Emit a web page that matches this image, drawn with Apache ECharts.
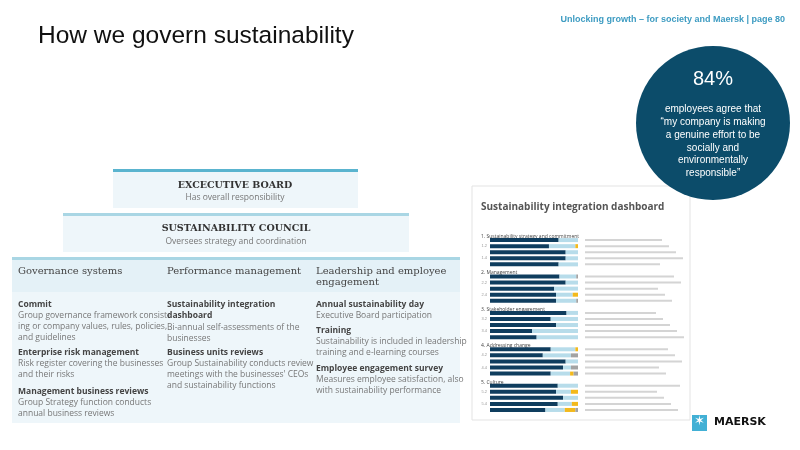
<!DOCTYPE html>
<html><head><meta charset="utf-8">
<script src="https://cdn.jsdelivr.net/npm/echarts@6/dist/echarts.min.js"></script>
<style>html,body{margin:0;padding:0;background:#fff}#main{width:800px;height:450px}</style>
</head><body><div id="main"></div>
<script>
// dashboard rows, hN = section heading row
var rows = ['h1', '1.1', '1.2', '1.3', '1.4', '1.5', 'h2', '2.1', '2.2', '2.3', '2.4', '2.5',
    'h3', '3.1', '3.2', '3.3', '3.4', '3.5', 'h4', '4.1', '4.2', '4.3', '4.4', '4.5',
    'h5', '5.1', '5.2', '5.3', '5.4', '5.5'];
var sections = ['1. Sustainability strategy and commitment', '2. Management', '3. Stakeholder engagement',
    '4. Addressing change', '5. Culture'];
var agree = [null, 0.78, 0.67, 0.86, 0.86, 0.78, null, 0.79, 0.86, 0.73, 0.75, 0.75,
    null, 0.87, 0.69, 0.75, 0.48, 0.53, null, 0.69, 0.60, 0.86, 0.83, 0.69,
    null, 0.77, 0.75, 0.83, 0.77, 0.63];
var neutral = [null, 0, 0.03, 0, 0, 0, null, 0, 0, 0, 0.06, 0,
    null, 0, 0, 0, 0, 0, null, 0.03, 0, 0, 0, 0.04,
    null, 0, 0.08, 0, 0.07, 0.12];
var unknown = [null, 0, 0, 0, 0, 0, null, 0.02, 0, 0, 0, 0.02,
    null, 0, 0, 0, 0, 0, null, 0, 0.08, 0, 0.08, 0.05,
    null, 0, 0, 0, 0, 0.03];
var rest = agree.map(function (v, i) {
    return v == null ? null : +(1 - v - neutral[i] - unknown[i]).toFixed(2);
});

var myChart = echarts.init(document.getElementById('main'));
var sans = '"Open Sans", sans-serif', serif = '"DejaVu Serif", serif';

function txt(x, y, s, st) {
    return { type: 'text', silent: true, style: Object.assign({ x: x, y: y, text: s, fill: '#777', font: '8.5px ' + sans, lineHeight: 11, verticalAlign: 'top' }, st) };
}
function rect(x, y, w, h, c) {
    return { type: 'rect', shape: { x: x, y: y, width: w, height: h }, style: { fill: c }, silent: true };
}
var bold = { fill: '#444', font: 'bold 8.5px ' + sans };

var g = [
    txt(785, 14, 'Unlocking growth \u2013 for society and Maersk | page 80', { fill: '#3e9cc2', font: 'bold 9px "Liberation Sans", sans-serif', align: 'right' }),
    txt(38, 31, 'How we govern sustainability', { fill: '#111', font: '24.5px "Liberation Sans", sans-serif' }),
    // pyramid
    rect(113, 170, 245, 38, '#eef6fa'), rect(113, 169, 245, 3, '#5ab4cf'),
    rect(63, 214, 346, 38, '#eef6fa'), rect(63, 213, 346, 3, '#a9d6e4'),
    rect(12, 258, 448, 34, '#e4f1f7'), rect(12, 257, 448, 3, '#a9d6e4'),
    rect(12, 292, 448, 131, '#eef6fa'),
    txt(235, 180, 'EXCECUTIVE BOARD', { fill: '#333', font: 'bold 9.5px ' + serif, align: 'center' }),
    txt(235, 192, 'Has overall responsibility', { align: 'center' }),
    txt(236, 223, 'SUSTAINABILITY COUNCIL', { fill: '#333', font: 'bold 9.5px ' + serif, align: 'center' }),
    txt(236, 236, 'Oversees strategy and coordination', { align: 'center' }),
    txt(18, 266, 'Governance systems', { fill: '#444', font: '10px ' + serif }),
    txt(167, 266, 'Performance management', { fill: '#444', font: '10px ' + serif }),
    txt(316, 266, 'Leadership and employee\nengagement', { fill: '#444', font: '10px ' + serif, lineHeight: 11 }),
    txt(18, 299, 'Commit', bold),
    txt(18, 310, 'Group governance framework consist-\ning or company values, rules, policies,\nand guidelines'),
    txt(18, 347, 'Enterprise risk management', bold),
    txt(18, 358, 'Risk register covering the businesses\nand their risks'),
    txt(18, 386, 'Management business reviews', bold),
    txt(18, 397, 'Group Strategy function conducts\nannual business reviews'),
    txt(167, 299, 'Sustainability integration\ndashboard', Object.assign({ lineHeight: 11 }, bold)),
    txt(167, 322, 'Bi-annual self-assessments of the\nbusinesses'),
    txt(167, 347, 'Business units reviews', bold),
    txt(167, 358, 'Group Sustainability conducts review\nmeetings with the businesses\' CEOs\nand sustainability functions'),
    txt(316, 299, 'Annual sustainability day', bold),
    txt(316, 310, 'Executive Board participation'),
    txt(316, 325, 'Training', bold),
    txt(316, 336, 'Sustainability is included in leadership\ntraining and e-learning courses'),
    txt(316, 363, 'Employee engagement survey', bold),
    txt(316, 374, 'Measures employee satisfaction, also\nwith sustainability performance'),
    // dashboard panel
    { type: 'rect', shape: { x: 472, y: 186, width: 218, height: 234 }, style: { fill: '#fff', stroke: '#e3e3e3', lineWidth: 1 }, silent: true },
    txt(481, 202, 'Sustainability integration dashboard', { fill: '#555', font: 'bold 10px ' + sans }),
    // circle
    { type: 'circle', shape: { cx: 713, cy: 123, r: 77 }, style: { fill: '#0c4c6a' }, silent: true },
    txt(713, 74, '84%', { fill: '#fff', font: '20px "Liberation Sans", sans-serif', align: 'center' }),
    txt(713, 103, 'employees agree that\n\u201cmy company is making\na genuine effort to be\nsocially and\nenvironmentally\nresponsible\u201d',
        { fill: '#fff', font: '10px "Liberation Sans", sans-serif', align: 'center', lineHeight: 12.8 }),
    // logo
    rect(692, 415, 15, 16, '#42b0d5'),
    txt(699.5, 416, '\u2736', { fill: '#fff', font: '13px "DejaVu Sans"', align: 'center' }),
    txt(714, 417, 'MAERSK', { fill: '#111', font: 'bold 11px "DejaVu Sans", sans-serif' })
];

function bar(name, data, color) {
    return { type: 'bar', name: name, stack: 's', data: data, barWidth: 4, itemStyle: { color: color }, silent: true };
}

var option = {
    animation: false,
    grid: { left: 490, top: 231, width: 88, height: 182 },
    xAxis: { type: 'value', min: 0, max: 1, show: false },
    yAxis: {
        type: 'category', data: rows, inverse: true,
        axisLine: { show: false }, axisTick: { show: false },
        axisLabel: {
            fontSize: 4, color: '#999', margin: 3,
            formatter: function (v) { return v.charAt(0) == 'h' ? '' : v; }
        }
    },
    series: [
        bar('agree', agree, '#0f3d5e'),
        bar('rest', rest, '#b7dcea'),
        bar('neutral', neutral, '#f3b91c'),
        bar('unknown', unknown, '#a3a3a3')
    ],
    graphic: g
};
myChart.setOption(option);

// section headings and question lines placed on the category rows
var extra = [];
rows.forEach(function (r, i) {
    var y = myChart.convertToPixel({ yAxisIndex: 0 }, r);
    if (r.charAt(0) == 'h') {
        extra.push(txt(481, y - 3, sections[+r.charAt(1) - 1], { fill: '#444', font: '5px ' + sans }));
    } else {
        extra.push(rect(585, y - 1, 70 + (i * 37 % 30), 2, '#d4d4d4'));
    }
});
myChart.setOption({ graphic: g.concat(extra) });
</script>
</body></html>
